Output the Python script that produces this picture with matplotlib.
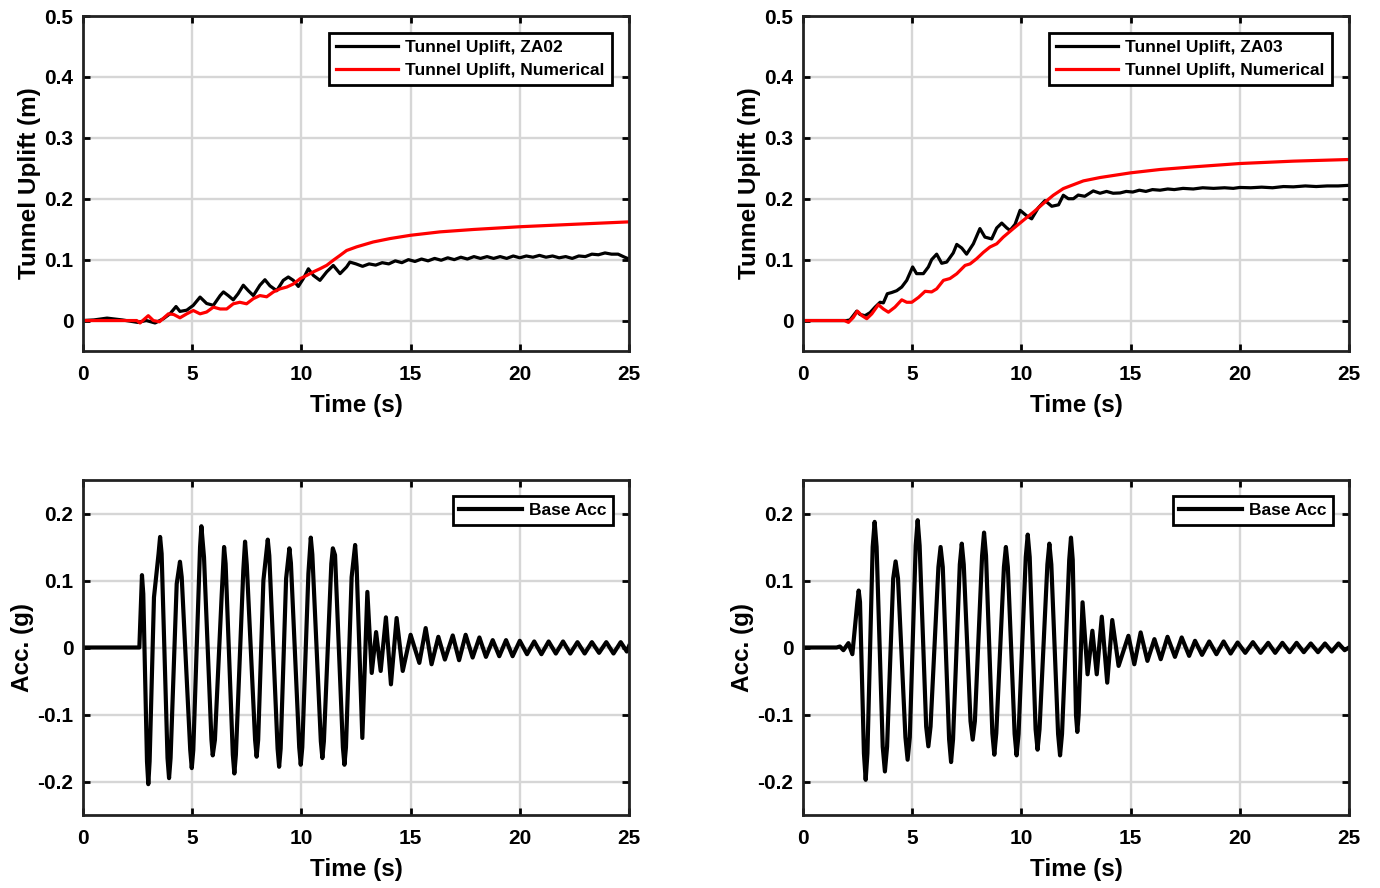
import matplotlib
matplotlib.use("Agg")
import matplotlib.pyplot as plt

plt.rcParams['font.family'] = ['Liberation Sans', 'DejaVu Sans']
plt.rcParams['font.weight'] = 'bold'

# ---------------- data ----------------
# Top-left: tunnel uplift ZA02 (measured) vs numerical
za02_t = [0, 0.5, 1.1, 1.8, 2.5, 2.9, 3.3, 3.68, 3.98, 4.26, 4.44, 4.75, 5.05, 5.36, 5.66, 5.97,
          6.28, 6.43, 6.65, 6.88, 7.1, 7.34, 7.57, 7.80, 8.1, 8.33, 8.56, 8.87, 9.17, 9.40, 9.63,
          9.86, 10.09, 10.32, 10.55, 10.85, 11.16, 11.46, 11.77, 12.07, 12.22, 12.5, 12.8, 13.1,
          13.4, 13.7, 14.0, 14.3, 14.6, 14.9, 15.2, 15.5, 15.8, 16.1, 16.4, 16.7, 17.0, 17.3, 17.6,
          17.9, 18.2, 18.5, 18.8, 19.1, 19.4, 19.7, 20.0, 20.3, 20.6, 20.9, 21.2, 21.5, 21.8, 22.1,
          22.4, 22.7, 23.0, 23.3, 23.6, 23.9, 24.2, 24.5, 24.8, 25.0]
za02_v = [0, 0.001, 0.004, 0.001, -0.003, 0.0, -0.004, 0.003, 0.011, 0.023, 0.015, 0.017, 0.025, 0.0385,
          0.028, 0.025, 0.041, 0.047, 0.041, 0.034, 0.044, 0.058, 0.049, 0.041, 0.058, 0.067, 0.057,
          0.049, 0.066, 0.0715, 0.066, 0.056, 0.069, 0.085, 0.074, 0.066, 0.080, 0.0905, 0.077, 0.088,
          0.096, 0.093, 0.089, 0.093, 0.091, 0.095, 0.093, 0.098, 0.095, 0.100, 0.097, 0.101, 0.098,
          0.102, 0.099, 0.103, 0.100, 0.104, 0.101, 0.105, 0.102, 0.105, 0.102, 0.105, 0.102, 0.106,
          0.103, 0.106, 0.104, 0.107, 0.104, 0.106, 0.103, 0.105, 0.102, 0.106, 0.105, 0.109, 0.108,
          0.111, 0.109, 0.109, 0.104, 0.101]
numL_t = [0, 1.0, 2.0, 2.46, 2.61, 2.99, 3.22, 3.5, 3.91, 4.15, 4.44, 4.75, 5.05, 5.36, 5.66, 5.97,
          6.28, 6.58, 6.88, 7.18, 7.49, 7.80, 8.10, 8.41, 8.72, 9.02, 9.33, 9.63, 9.94, 10.24, 10.55,
          10.85, 11.16, 11.46, 11.77, 12.07, 12.53, 13.29, 14.06, 15.0, 16.35, 17.87, 20.0, 22.45, 25.0]
numL_v = [0, 0, 0, 0, -0.004, 0.008, 0.0, -0.002, 0.011, 0.010, 0.0045, 0.011, 0.0165, 0.011, 0.014,
          0.022, 0.019, 0.019, 0.0275, 0.030, 0.0275, 0.036, 0.041, 0.039, 0.047, 0.052, 0.055, 0.060,
          0.0687, 0.074, 0.080, 0.085, 0.0907, 0.099, 0.107, 0.115, 0.121, 0.129, 0.1346, 0.140,
          0.1456, 0.1495, 0.154, 0.158, 0.162]

# Top-right: tunnel uplift ZA03 (measured) vs numerical
za03_t = [0, 1.0, 2.0, 2.15, 2.46, 2.61, 2.84, 3.07, 3.30, 3.53, 3.68, 3.86, 4.06, 4.29, 4.52, 4.75,
          5.02, 5.20, 5.51, 5.74, 5.89, 6.12, 6.35, 6.58, 6.88, 7.04, 7.27, 7.49, 7.80, 8.10, 8.33,
          8.64, 8.87, 9.10, 9.33, 9.48, 9.71, 9.94, 10.24, 10.47, 10.77, 11.08, 11.39, 11.70, 11.92,
          12.15, 12.38, 12.6, 12.9, 13.29, 13.6, 13.9, 14.2, 14.52, 14.8, 15.1, 15.4, 15.7, 16.0, 16.35,
          16.7, 17.0, 17.4, 17.87, 18.3, 18.8, 19.3, 19.7, 20.0, 20.5, 21.0, 21.5, 22.0, 22.45, 23.0,
          23.5, 24.0, 24.5, 25.0]
za03_v = [0, 0, 0, 0.001, 0.0154, 0.010, 0.008, 0.013, 0.022, 0.030, 0.029, 0.044, 0.046, 0.049,
          0.055, 0.066, 0.088, 0.077, 0.077, 0.088, 0.100, 0.109, 0.094, 0.096, 0.111, 0.125, 0.119,
          0.109, 0.126, 0.151, 0.137, 0.134, 0.152, 0.160, 0.152, 0.148, 0.158, 0.181, 0.172, 0.167,
          0.185, 0.197, 0.1876, 0.190, 0.2057, 0.200, 0.200, 0.206, 0.204, 0.2128, 0.209, 0.212, 0.209,
          0.2095, 0.212, 0.211, 0.214, 0.212, 0.215, 0.214, 0.216, 0.215, 0.217, 0.216, 0.218, 0.217,
          0.218, 0.217, 0.2185, 0.218, 0.219, 0.218, 0.220, 0.2195, 0.221, 0.220, 0.221, 0.221, 0.222]
numR_t = [0, 1.0, 1.9, 2.08, 2.3, 2.49, 2.70, 2.92, 3.15, 3.45, 3.68, 3.91, 4.21, 4.52, 4.75, 4.98,
          5.29, 5.59, 5.89, 6.12, 6.43, 6.73, 7.04, 7.42, 7.65, 7.95, 8.26, 8.56, 8.87, 9.17, 9.63,
          10.09, 10.55, 11.0, 11.46, 11.92, 12.38, 12.84, 13.60, 15.0, 16.35, 17.87, 20.0, 22.45, 25.0]
numR_v = [0, 0, 0, -0.003, 0.005, 0.0154, 0.008, 0.003, 0.011, 0.026, 0.019, 0.0137, 0.022, 0.034,
          0.030, 0.030, 0.038, 0.048, 0.047, 0.052, 0.066, 0.069, 0.0768, 0.0905, 0.093, 0.1015, 0.112,
          0.1207, 0.126, 0.137, 0.151, 0.1646, 0.178, 0.192, 0.2057, 0.2167, 0.223, 0.2293, 0.2348,
          0.2425, 0.248, 0.2523, 0.2578, 0.2617, 0.2644]

# Bottom-left: base acceleration (g)
accL_t = [0, 1.0, 2.0, 2.58, 2.70, 2.76, 2.93, 2.99, 3.05, 3.25, 3.46, 3.53, 3.60, 3.87, 3.94, 4.01,
          4.29, 4.44, 4.52, 4.91, 4.98, 5.05, 5.36, 5.42, 5.54, 5.88, 5.94, 6.04, 6.35, 6.46, 6.53,
          6.86, 6.93, 7.00, 7.34, 7.42, 7.50, 7.88, 7.95, 8.02, 8.26, 8.46, 8.53, 8.91, 8.98, 9.05,
          9.30, 9.45, 9.52, 9.90, 9.97, 10.04, 10.32, 10.43, 10.50, 10.89, 10.96, 11.03, 11.37, 11.44,
          11.54, 11.90, 11.97, 12.04, 12.30, 12.46, 12.53, 12.79, 13.02, 13.22, 13.42, 13.63, 13.87,
          14.10, 14.36, 14.64, 15.00, 15.40, 15.69, 15.96, 16.27, 16.57, 16.93, 17.22, 17.52, 17.84,
          18.15, 18.45, 18.76, 19.06, 19.37, 19.67, 20.00, 20.33, 20.66, 20.99, 21.32, 21.65, 21.98,
          22.31, 22.64, 22.97, 23.30, 23.63, 23.96, 24.29, 24.62, 24.90, 25.0]
accL_v = [0, 0, 0, 0, 0.108, 0.080, -0.170, -0.204, -0.170, 0.075, 0.140, 0.165, 0.140, -0.165,
          -0.195, -0.165, 0.095, 0.128, 0.105, -0.153, -0.180, -0.153, 0.150, 0.181, 0.135, -0.137,
          -0.161, -0.138, 0.078, 0.150, 0.125, -0.160, -0.188, -0.160, 0.115, 0.158, 0.123, -0.138,
          -0.163, -0.138, 0.100, 0.161, 0.137, -0.151, -0.178, -0.151, 0.103, 0.148, 0.126, -0.149,
          -0.175, -0.149, 0.110, 0.164, 0.139, -0.140, -0.165, -0.140, 0.125, 0.148, 0.138, -0.149,
          -0.175, -0.149, 0.105, 0.153, 0.120, -0.135, 0.083, -0.038, 0.023, -0.035, 0.045, -0.055,
          0.044, -0.035, 0.019, -0.023, 0.029, -0.025, 0.016, -0.018, 0.018, -0.019, 0.019, -0.015,
          0.015, -0.014, 0.011, -0.013, 0.011, -0.013, 0.010, -0.010, 0.009, -0.010, 0.009, -0.009,
          0.009, -0.009, 0.008, -0.009, 0.008, -0.008, 0.008, -0.009, 0.008, -0.006, 0.002]

# Bottom-right: base acceleration (g)
accR_t = [0, 1.0, 1.54, 1.69, 1.85, 2.08, 2.26, 2.49, 2.55, 2.61, 2.79, 2.87, 2.95, 3.19, 3.28, 3.37,
          3.65, 3.75, 3.85, 4.13, 4.24, 4.35, 4.69, 4.79, 4.89, 5.16, 5.25, 5.34, 5.64, 5.74, 5.84,
          6.20, 6.30, 6.40, 6.69, 6.78, 6.87, 7.18, 7.27, 7.36, 7.67, 7.77, 7.87, 8.20, 8.29, 8.38,
          8.67, 8.76, 8.85, 9.20, 9.29, 9.38, 9.69, 9.78, 9.87, 10.20, 10.29, 10.38, 10.65, 10.74,
          10.83, 11.19, 11.28, 11.37, 11.68, 11.77, 11.86, 12.19, 12.27, 12.35, 12.50, 12.56, 12.62,
          12.80, 13.03, 13.25, 13.45, 13.68, 13.93, 14.16, 14.45, 14.90, 15.17, 15.46, 15.77, 16.09,
          16.38, 16.69, 17.03, 17.34, 17.68, 17.95, 18.27, 18.60, 18.93, 19.26, 19.58, 19.90, 20.25,
          20.60, 20.95, 21.30, 21.62, 21.95, 22.28, 22.60, 22.93, 23.25, 23.58, 23.90, 24.21, 24.52,
          24.80, 25.0]
accR_v = [0, 0, 0, 0.0015, -0.004, 0.0065, -0.010, 0.068, 0.085, 0.068, -0.158, -0.1975, -0.158,
          0.150, 0.1875, 0.150, -0.148, -0.185, -0.148, 0.103, 0.1285, 0.103, -0.134, -0.1675, -0.134,
          0.152, 0.190, 0.152, -0.118, -0.1475, -0.118, 0.120, 0.150, 0.120, -0.137, -0.171, -0.137,
          0.124, 0.155, 0.124, -0.110, -0.1375, -0.110, 0.137, 0.1715, 0.137, -0.128, -0.160, -0.128,
          0.120, 0.150, 0.120, -0.129, -0.161, -0.129, 0.135, 0.1685, 0.135, -0.122, -0.1525, -0.122,
          0.124, 0.155, 0.124, -0.129, -0.161, -0.129, 0.131, 0.164, 0.131, -0.101, -0.126, -0.101,
          0.0675, -0.040, 0.025, -0.040, 0.046, -0.0525, 0.041, -0.0275, 0.0175, -0.025, 0.0225,
          -0.020, 0.0125, -0.0175, 0.016, -0.014, 0.015, -0.0125, 0.010, -0.011, 0.009, -0.010, 0.009,
          -0.009, 0.0075, -0.008, 0.008, -0.008, 0.007, -0.008, 0.007, -0.007, 0.007, -0.007, 0.006,
          -0.007, 0.006, -0.006, 0.006, -0.004, 0.0]

x_ticks = [0, 5, 10, 15, 20, 25]
up_ticks = [0, 0.1, 0.2, 0.3, 0.4, 0.5]
acc_ticks = [-0.2, -0.1, 0, 0.1, 0.2]

xlabel = 'Time (s)'
ylab_up = 'Tunnel Uplift (m)'
ylab_acc = 'Acc. (g)'
leg_left = ['Tunnel Uplift, ZA02', 'Tunnel Uplift, Numerical']
leg_right = ['Tunnel Uplift, ZA03', 'Tunnel Uplift, Numerical']
leg_acc = 'Base Acc'

# ---------------- figure ----------------
W, H = 1380, 888
fig = plt.figure(figsize=(W / 100, H / 100), dpi=100)


def frac(left, top, right, bottom):
    return [left / W, 1 - bottom / H, (right - left) / W, (bottom - top) / H]


def fmt(v):
    if abs(v) < 1e-9:
        return '0'
    return '%g' % v


def style(ax, yticks, ylim, ylabel):
    ax.set_xlim(0, 25)
    ax.set_ylim(*ylim)
    ax.set_xticks(x_ticks)
    ax.set_xticklabels([fmt(v) for v in x_ticks])
    ax.set_yticks(yticks)
    ax.set_yticklabels([fmt(v) for v in yticks])
    ax.grid(True, color='#d6d6d6', linewidth=1.7)
    ax.set_axisbelow(True)
    ax.tick_params(direction='in', length=5, width=2, top=True, right=True,
                   labelsize=15, colors='black')
    ax.tick_params(axis='x', pad=10)
    ax.tick_params(axis='y', pad=7)
    for lab in ax.get_xticklabels() + ax.get_yticklabels():
        lab.set_fontweight('bold')
    for sp in ax.spines.values():
        sp.set_linewidth(2.0)
        sp.set_color('#222222')
    ax.set_xlabel(xlabel, fontsize=17.5, fontweight='bold', labelpad=7)
    ax.set_ylabel(ylabel, fontsize=17.5, fontweight='bold', labelpad=2)


def legend(ax, pad):
    lg = ax.legend(loc='upper right', fancybox=False, framealpha=1, edgecolor='black',
                   prop={'weight': 'bold', 'size': 12.5}, handlelength=3.6,
                   borderpad=0.4, labelspacing=0.45, handletextpad=0.4,
                   borderaxespad=pad)
    lg.get_frame().set_linewidth(2.0)
    return lg


# top-left
ax1 = fig.add_axes(frac(83, 16, 629, 351))
ax1.plot(za02_t, za02_v, color='black', lw=2.3, label=leg_left[0])
ax1.plot(numL_t, numL_v, color='#ff0000', lw=2.3, label=leg_left[1])
style(ax1, up_ticks, (-0.05, 0.5), ylab_up)
legend(ax1, 1.0)

# top-right
ax2 = fig.add_axes(frac(803, 16, 1349, 351))
ax2.plot(za03_t, za03_v, color='black', lw=2.3, label=leg_right[0])
ax2.plot(numR_t, numR_v, color='#ff0000', lw=2.3, label=leg_right[1])
style(ax2, up_ticks, (-0.05, 0.5), ylab_up)
legend(ax2, 1.0)

# bottom-left
ax3 = fig.add_axes(frac(83, 480, 629, 815))
ax3.plot(accL_t, accL_v, color='black', lw=3.0, label=leg_acc)
style(ax3, acc_ticks, (-0.25, 0.25), ylab_acc)
legend(ax3, 0.9)

# bottom-right
ax4 = fig.add_axes(frac(803, 480, 1349, 815))
ax4.plot(accR_t, accR_v, color='black', lw=3.0, label=leg_acc)
style(ax4, acc_ticks, (-0.25, 0.25), ylab_acc)
legend(ax4, 0.9)

fig.savefig('out.png', dpi=100)
